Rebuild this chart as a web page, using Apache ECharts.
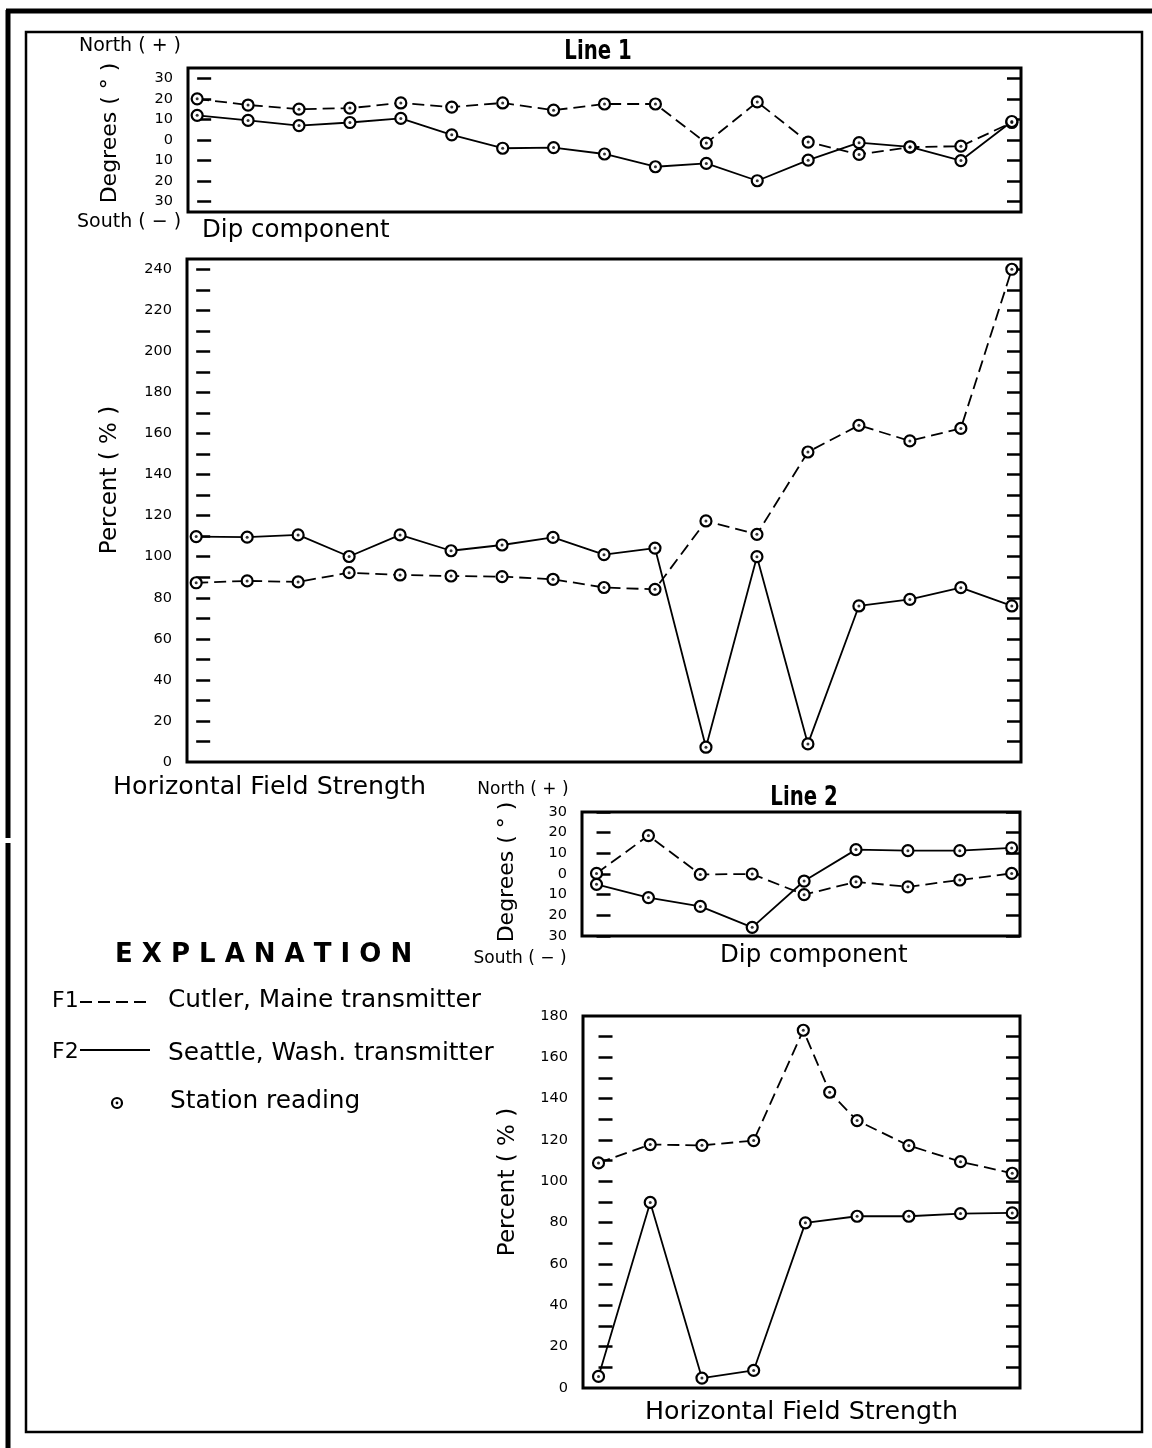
<!DOCTYPE html>
<html>
<head>
<meta charset="utf-8">
<script src="https://cdn.jsdelivr.net/npm/echarts@6/dist/echarts.min.js"></script>
<style>
  html, body { margin: 0; padding: 0; background: #fff; }
  #chart { width: 1152px; height: 1448px; }
</style>
</head>
<body>
<div id="chart"></div>
<script>
// ---------------- DATA ----------------
// Line 1 stations (17 readings)
const L1_STATIONS = [0, 1, 2, 3, 4, 5, 6, 7, 8, 9, 10, 11, 12, 13, 14, 15, 16];
// Line 1 dip component (degrees, + north / - south)
const L1_DIP_F1 = [20, 17, 15, 15.5, 18, 16, 18, 14.5, 17.5, 17.5, -1.5, 18.5, -1, -7, -3.5, -3, 8.5];
const L1_DIP_F2 = [12, 9.5, 7, 8.5, 10.5, 2.5, -4, -3.7, -6.8, -13, -11.4, -19.8, -9.8, -1.3, -3.3, -10, 9];
// Line 1 horizontal field strength (percent)
const L1_HFS_F1 = [87.3, 88.2, 87.7, 92.2, 91.1, 90.6, 90.3, 89, 85, 84.1, 117.4, 110.9, 151, 164, 156.4, 162.5, 240];
const L1_HFS_F2 = [109.8, 109.5, 110.6, 100.1, 110.6, 102.9, 105.7, 109.4, 101, 104.2, 7.2, 100, 8.8, 76, 79.2, 84.9, 76];

// Line 2 stations
const L2_DIP_STATIONS = [0, 1, 2, 3, 4, 5, 6, 7, 8];
const L2_DIP_F1 = [0.3, 18.6, -0.2, 0, -10, -3.8, -6.2, -2.9, 0.3];
const L2_DIP_F2 = [-5, -11.4, -15.7, -25.8, -3.4, 11.8, 11.3, 11.3, 12.6];
const L2_HFS_F1_STATIONS = [0, 1, 2, 3, 3.96, 4.47, 5, 6, 7, 8];
const L2_HFS_F1 = [108.9, 117.8, 117.4, 119.7, 173.1, 143.1, 129.4, 117.3, 109.5, 103.9];
const L2_HFS_F2_STATIONS = [0, 1, 2, 3, 4, 5, 6, 7, 8];
const L2_HFS_F2 = [5.6, 89.8, 4.8, 8.5, 79.9, 83.1, 83.1, 84.4, 84.7];

// Tick values / tick labels
const DIP_TICKS = [-30, -20, -10, 0, 10, 20, 30];
const DIP_LABELS = [-30, -20, -10, 0, 10, 20, 30];
const HFS1_TICKS = [10, 20, 30, 40, 50, 60, 70, 80, 90, 100, 110, 120, 130, 140, 150, 160, 170, 180, 190, 200, 210, 220, 230, 240];
const HFS1_LABELS = [0, 20, 40, 60, 80, 100, 120, 140, 160, 180, 200, 220, 240];
const HFS2_TICKS = [10, 20, 30, 40, 50, 60, 70, 80, 90, 100, 110, 120, 130, 140, 150, 160, 170];
const HFS2_LABELS = [0, 20, 40, 60, 80, 100, 120, 140, 160, 180];

// ---------------- STYLE ----------------
const SANS = "'DejaVu Sans', 'Liberation Sans', sans-serif";
const BLACK = '#000';

const grids = [
  { left: 188, top: 68, width: 833, height: 144 },   // Line 1 dip
  { left: 187, top: 259, width: 834, height: 503 },  // Line 1 horizontal
  { left: 582, top: 812, width: 438, height: 124 },  // Line 2 dip
  { left: 583, top: 1016, width: 437, height: 372 }  // Line 2 horizontal
].map(g => Object.assign({ show: true, borderColor: BLACK, borderWidth: 3, backgroundColor: 'transparent' }, g));

const xRanges = [[-0.18, 16.18], [-0.18, 16.18], [-0.28, 8.16], [-0.3, 8.15]];
const xAxes = xRanges.map((r, i) => ({
  type: 'value', gridIndex: i, min: r[0], max: r[1], show: false
}));

function yPair(gi, min, max, ticks, labels, fmt) {
  const base = {
    type: 'value', gridIndex: gi, min: min, max: max,
    axisLine: { show: false },
    splitLine: { show: false },
    axisTick: { show: true, inside: true, length: 14, lineStyle: { color: BLACK, width: 2.5 }, customValues: ticks }
  };
  const left = Object.assign({}, base, {
    position: 'left',
    axisLabel: { show: true, margin: 15, color: BLACK, fontFamily: SANS, fontSize: 14.5, customValues: labels, formatter: fmt }
  });
  const right = Object.assign({}, base, {
    position: 'right',
    axisLabel: { show: false }
  });
  return [left, right];
}
const absFmt = v => String(Math.abs(Math.round(v)));
const plainFmt = v => String(Math.round(v));

const yAxes = [].concat(
  yPair(0, -35, 35, DIP_TICKS, DIP_LABELS, absFmt),
  yPair(1, 0, 245, HFS1_TICKS, HFS1_LABELS, plainFmt),
  yPair(2, -30, 30, DIP_TICKS, DIP_LABELS, absFmt),
  yPair(3, 0, 180, HFS2_TICKS, HFS2_LABELS, plainFmt)
);

function pairs(xs, ys) { return xs.map((x, i) => [x, ys[i]]); }

function lineSeries(gi, xs, ys, dashed) {
  const data = pairs(xs, ys);
  return [{
    type: 'line', xAxisIndex: gi, yAxisIndex: gi * 2, data: data,
    symbol: 'circle', symbolSize: 11, showSymbol: true,
    lineStyle: { color: BLACK, width: 1.8, type: dashed ? [12, 6] : 'solid' },
    itemStyle: { color: '#fff', borderColor: BLACK, borderWidth: 2.2 },
    z: 3, animation: false, silent: true
  }, {
    type: 'scatter', xAxisIndex: gi, yAxisIndex: gi * 2, data: data,
    symbol: 'circle', symbolSize: 3,
    itemStyle: { color: BLACK },
    z: 5, animation: false, silent: true
  }];
}

const series = [].concat(
  lineSeries(0, L1_STATIONS, L1_DIP_F1, true),
  lineSeries(0, L1_STATIONS, L1_DIP_F2, false),
  lineSeries(1, L1_STATIONS, L1_HFS_F1, true),
  lineSeries(1, L1_STATIONS, L1_HFS_F2, false),
  lineSeries(2, L2_DIP_STATIONS, L2_DIP_F1, true),
  lineSeries(2, L2_DIP_STATIONS, L2_DIP_F2, false),
  lineSeries(3, L2_HFS_F1_STATIONS, L2_HFS_F1, true),
  lineSeries(3, L2_HFS_F2_STATIONS, L2_HFS_F2, false)
);

// ---------------- TEXT / FRAME ----------------
function T(text, x, y, o) {
  o = o || {};
  const align = o.align || 'left';
  return {
    type: 'text', x: x, y: y, rotation: o.rot || 0, scaleX: o.sx || 1, silent: true, z: 10,
    style: {
      text: text, x: 0, y: 0, fill: BLACK,
      fontSize: o.size || 24.5, fontFamily: o.family || SANS, fontWeight: o.weight || 'normal',
      align: align, textAlign: align, verticalAlign: 'middle', textVerticalAlign: 'middle'
    }
  };
}
const ROT = Math.PI / 2;

const elements = [
  // frames
  { type: 'line', shape: { x1: 8, y1: 10, x2: 8, y2: 838 }, style: { stroke: BLACK, lineWidth: 5 }, silent: true },
  { type: 'line', shape: { x1: 8, y1: 843, x2: 8, y2: 1448 }, style: { stroke: BLACK, lineWidth: 5 }, silent: true },
  { type: 'line', shape: { x1: 6, y1: 11, x2: 1152, y2: 11 }, style: { stroke: BLACK, lineWidth: 5 }, silent: true },
  { type: 'rect', shape: { x: 26, y: 32, width: 1116, height: 1400 }, style: { fill: 'none', stroke: BLACK, lineWidth: 2.5 }, silent: true },

  // Line 1 dip
  T('North ( + )', 130, 46, { align: 'center', size: 19 }),
  T('Line 1', 598, 52, { align: 'center', size: 27, weight: 'bold', sx: 0.73 }),
  T('Degrees ( \u00B0 )', 110, 133, { align: 'center', size: 22, rot: ROT }),
  T('South ( \u2212 )', 129, 222, { align: 'center', size: 19 }),
  T('Dip component', 202, 231, {}),

  // Line 1 horizontal
  T('Percent ( % )', 110, 480, { align: 'center', size: 23, rot: ROT }),
  T('Horizontal Field Strength', 113, 787, { size: 25.3 }),

  // Line 2 dip
  T('North ( + )', 523, 790, { align: 'center', size: 17 }),
  T('Line 2', 804, 798, { align: 'center', size: 27, weight: 'bold', sx: 0.73 }),
  T('Degrees ( \u00B0 )', 507, 872, { align: 'center', size: 22, rot: ROT }),
  T('South ( \u2212 )', 520, 959, { align: 'center', size: 17 }),
  T('Dip component', 720, 956, {}),

  // Explanation
  T('E X P L A N A T I O N', 115, 955, { weight: 'bold', size: 26 }),
  T('F1', 52, 1001, { size: 22 }),
  { type: 'line', shape: { x1: 80, y1: 1002, x2: 150, y2: 1002 }, style: { stroke: BLACK, lineWidth: 2, lineDash: [12, 6] }, silent: true },
  T('Cutler, Maine transmitter', 168, 1001, { size: 24.8 }),
  T('F2', 52, 1052, { size: 22 }),
  { type: 'line', shape: { x1: 80, y1: 1050, x2: 150, y2: 1050 }, style: { stroke: BLACK, lineWidth: 2 }, silent: true },
  T('Seattle, Wash. transmitter', 168, 1054, { size: 24.8 }),
  { type: 'circle', shape: { cx: 117, cy: 1103, r: 5 }, style: { fill: '#fff', stroke: BLACK, lineWidth: 2.2 }, silent: true },
  { type: 'circle', shape: { cx: 117, cy: 1103, r: 1.4 }, style: { fill: BLACK }, silent: true },
  T('Station reading', 170, 1102, { size: 24.8 }),

  // Line 2 horizontal
  T('Percent ( % )', 508, 1182, { align: 'center', size: 23, rot: ROT }),
  T('Horizontal Field Strength', 645, 1412, { size: 25.3 })
];

const chart = echarts.init(document.getElementById('chart'), null, { renderer: 'canvas' });
chart.setOption({
  backgroundColor: '#fff',
  animation: false,
  grid: grids,
  xAxis: xAxes,
  yAxis: yAxes,
  series: series,
  graphic: { elements: elements }
});
</script>
</body>
</html>
